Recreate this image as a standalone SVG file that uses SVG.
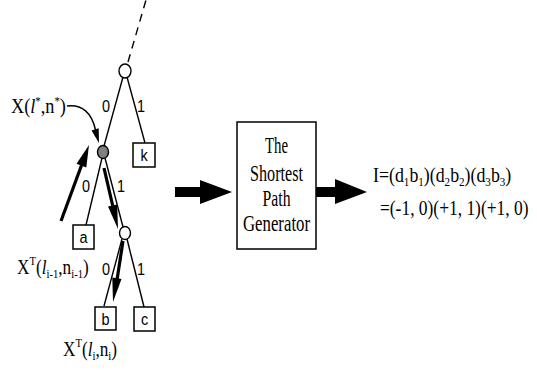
<svg xmlns="http://www.w3.org/2000/svg" width="537" height="370" viewBox="0 0 537 370">
<style>
.e{stroke:#000;stroke-width:1.4;fill:none}
.n{fill:#fff;stroke:#000;stroke-width:1.4}
.bx{fill:#fff;stroke:#000;stroke-width:1.5}
.lt{font-family:"Liberation Sans",Arial,sans-serif;font-size:17px;text-anchor:middle;fill:#000}
.lb{font-family:"Liberation Sans",Arial,sans-serif;font-size:17px;text-anchor:middle;fill:#000}
.sf{font-family:"Liberation Serif","Times New Roman",serif;fill:#000}
.big{font-family:"Liberation Serif","Times New Roman",serif;font-size:23px;text-anchor:middle;fill:#000}
</style>
<rect width="537" height="370" fill="#fff"/>
<g id="connectors">
  <line x1="128" y1="62" x2="146" y2="0" class="e" stroke-dasharray="8,6"/>
  <line x1="123" y1="77" x2="104" y2="146" class="e"/>
  <line x1="127" y1="77" x2="145" y2="143" class="e"/>
  <line x1="102" y1="158" x2="86" y2="225" class="e"/>
  <line x1="105" y1="158" x2="123" y2="227" class="e"/>
  <line x1="122" y1="239" x2="104" y2="306" class="e"/>
  <line x1="127" y1="239" x2="144" y2="307" class="e"/>
  <line x1="61" y1="221" x2="82" y2="164" stroke="#000" stroke-width="3.2"/>
  <polygon points="89,145 86.3,167.5 76.5,163.8" fill="#000"/>
  <line x1="104" y1="168" x2="113" y2="207" stroke="#000" stroke-width="3.2"/>
  <polygon points="118,229 117.2,204.4 108,206.6" fill="#000"/>
  <line x1="123" y1="241" x2="117" y2="280" stroke="#000" stroke-width="3.2"/>
  <polygon points="113,302 121.5,279 112.3,277.5" fill="#000"/>
  <path d="M67,106 C82,104 92,113 95.5,130" class="e" stroke-width="1.6"/>
  <polygon points="99,143 98.7,128.3 91.5,130.6" fill="#000"/>
  <polygon points="175,187 200,187 200,180 232,192 200,204 200,197 175,197" fill="#000"/>
  <polygon points="316,187 335,187 335,179 367,192 335,204 335,197 316,197" fill="#000"/>
</g>
<g id="edge-labels">
  <text class="lb" transform="translate(106,112) scale(0.85,1)">0</text>
  <text class="lb" transform="translate(141,112) scale(0.85,1)">1</text>
  <text class="lb" transform="translate(86,192) scale(0.85,1)">0</text>
  <text class="lb" transform="translate(121,192) scale(0.85,1)">1</text>
  <text class="lb" transform="translate(106,275) scale(0.85,1)">0</text>
  <text class="lb" transform="translate(141,275) scale(0.85,1)">1</text>
</g>
<g id="node-top"><ellipse cx="125" cy="71" rx="6" ry="7" class="n"/></g>
<g id="node-star"><ellipse cx="103" cy="152" rx="5.5" ry="6.5" fill="#808080" stroke="#000" stroke-width="1.4"/></g>
<g id="node-mid"><ellipse cx="125" cy="233" rx="5.5" ry="6.5" class="n"/></g>
<g id="leaf-k"><rect x="133" y="143" width="22" height="24" class="bx"/><text class="lt" transform="translate(144,161) scale(0.85,1)">k</text></g>
<g id="leaf-a"><rect x="73" y="225" width="21" height="24" class="bx"/><text class="lt" transform="translate(83.5,243) scale(0.85,1)">a</text></g>
<g id="leaf-b"><rect x="95" y="307" width="21" height="23" class="bx"/><text class="lt" transform="translate(105.5,325) scale(0.85,1)">b</text></g>
<g id="leaf-c"><rect x="134" y="307" width="21" height="24" class="bx"/><text class="lt" transform="translate(144.5,325) scale(0.85,1)">c</text></g>
<g id="label-xstar">
  <text class="sf" font-size="22" transform="translate(11,113) scale(0.83,1)">X(<tspan font-style="italic">l</tspan><tspan font-size="13" dy="-8">*</tspan><tspan dy="8">,n</tspan><tspan font-size="13" dy="-8">*</tspan><tspan dy="8">)</tspan></text>
</g>
<g id="label-xprev">
  <text class="sf" font-size="21" transform="translate(17,274) scale(0.82,1)">X<tspan font-size="13" dy="-9">T</tspan><tspan dy="9">(</tspan><tspan font-style="italic">l</tspan><tspan font-size="13" dy="4">i-1</tspan><tspan dy="-4">,n</tspan><tspan font-size="13" dy="4">i-1</tspan><tspan dy="-4">)</tspan></text>
</g>
<g id="label-xcur">
  <text class="sf" font-size="21" transform="translate(63,356) scale(0.82,1)">X<tspan font-size="13" dy="-9">T</tspan><tspan dy="9">(</tspan><tspan font-style="italic">l</tspan><tspan font-size="13" dy="4">i</tspan><tspan dy="-4">,n</tspan><tspan font-size="13" dy="4">i</tspan><tspan dy="-4">)</tspan></text>
</g>
<g id="generator">
  <rect x="237" y="122" width="79" height="127" class="bx"/>
  <text class="big" x="276.5" y="153" textLength="23" lengthAdjust="spacingAndGlyphs">The</text>
  <text class="big" x="276.5" y="181" textLength="53" lengthAdjust="spacingAndGlyphs">Shortest</text>
  <text class="big" x="276.5" y="206" textLength="28" lengthAdjust="spacingAndGlyphs">Path</text>
  <text class="big" x="276.5" y="231" textLength="67" lengthAdjust="spacingAndGlyphs">Generator</text>
</g>
<g id="result">
  <text class="sf" font-size="21" transform="translate(373,182) scale(0.85,1)">I=(d<tspan font-size="13" dy="4">1</tspan><tspan dy="-4">b</tspan><tspan font-size="13" dy="4">1</tspan><tspan dy="-4">)(d</tspan><tspan font-size="13" dy="4">2</tspan><tspan dy="-4">b</tspan><tspan font-size="13" dy="4">2</tspan><tspan dy="-4">)(d</tspan><tspan font-size="13" dy="4">3</tspan><tspan dy="-4">b</tspan><tspan font-size="13" dy="4">3</tspan><tspan dy="-4">)</tspan></text>
  <text class="sf" font-size="21" transform="translate(380,215) scale(0.83,1)">=(-1, 0)(+1, 1)(+1, 0)</text>
</g>
</svg>
